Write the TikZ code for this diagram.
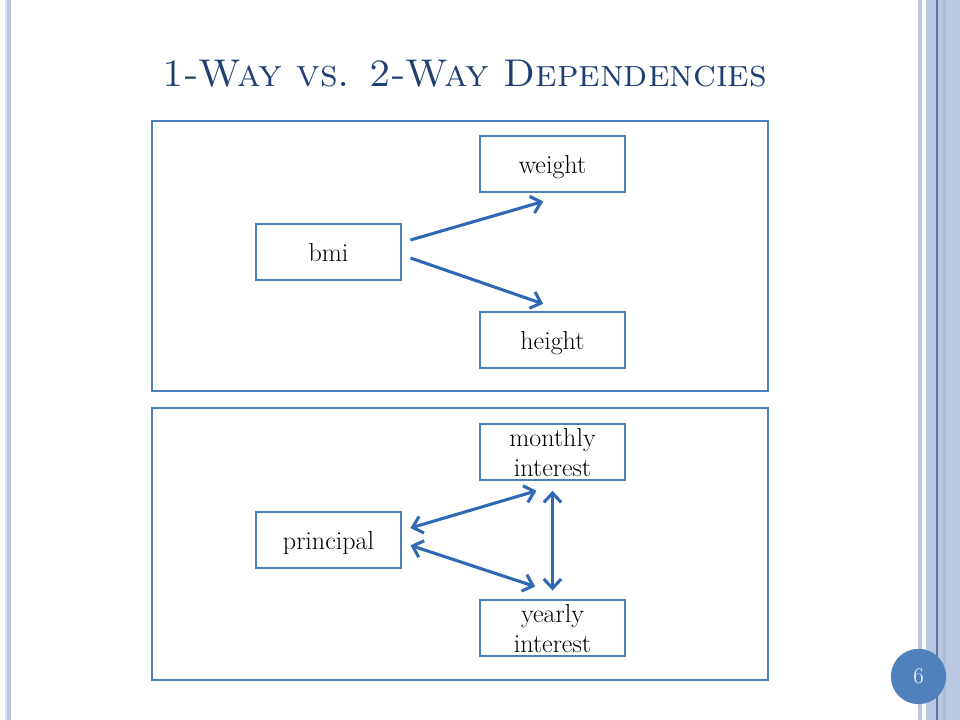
\documentclass[tikz,border=0pt]{standalone}
\usetikzlibrary{arrows.meta}
\definecolor{frameblue}{HTML}{4F7FBC}
\definecolor{arrowblue}{HTML}{3068B4}
\definecolor{titleblue}{HTML}{1F3F73}
\definecolor{bandblue}{HTML}{B9C7E1}
\definecolor{banddark}{HTML}{5F77A8}
\definecolor{bandmid}{HTML}{AABAD8}
\definecolor{bandlight}{HTML}{D6E0F0}
\definecolor{circblue}{HTML}{4F81BD}
\tikzset{
  box/.style={draw=frameblue, line width=2.2pt, fill=white, minimum width=108.75pt, minimum height=42pt, inner sep=0pt, text depth=0pt, align=center, font=\fontsize{19.5}{22.5}\selectfont},
  panel/.style={draw=frameblue, line width=1.7pt},
  arr/.style={draw=arrowblue, line width=2.3pt, -{Straight Barb[length=7pt,width=13pt,line width=2.3pt]}},
  darr/.style={draw=arrowblue, line width=2.3pt, {Straight Barb[length=7pt,width=13pt,line width=2.3pt]}-{Straight Barb[length=7pt,width=13pt,line width=2.3pt]}}
}
\begin{document}
\begin{tikzpicture}[x=0.75pt,y=-0.75pt]
\useasboundingbox (0,0) rectangle (960,720);
\fill[white] (0,0) rectangle (960,720);
% left edge stripe
\fill[bandblue] (5,0) rectangle (11,720);
\fill[bandlight] (5,0) rectangle (7,720);
% right edge bands
\fill[bandblue] (918,0) rectangle (922,720);
\fill[bandblue] (926,0) rectangle (960,720);
\fill[banddark] (936,0) rectangle (937.5,720);
\fill[bandmid] (943,0) rectangle (946,720);
% page number
\node[circle, fill=circblue, minimum size=41.5pt, inner sep=0pt, text=white, font=\fontsize{17}{20}\selectfont] (pg) at (918.5,676.5) {6};
% title
\node[text=titleblue, font=\fontsize{29}{35}\selectfont, anchor=base] (title) at (465,87) {\textsc{1-Way vs. 2-Way Dependencies}};
% panels
\draw[panel] (152,121) rectangle (768,391);
\draw[panel] (152,408) rectangle (768,680);
% nodes
\node[box] (bmi) at (328.5,252) {bmi};
\node[box] (weight) at (552.5,164) {weight};
\node[box] (height) at (552.5,340) {height};
\node[box] (principal) at (328.5,540) {principal};
\node[box] (monthly) at (552.5,452) {monthly\\interest};
\node[box] (yearly) at (552.5,628) {yearly\\interest};
% connectors
\draw[arr] ([xshift=6pt,yshift=9pt]bmi.east) -- ([xshift=-7pt,yshift=-6pt]weight.south);
\draw[arr] ([xshift=6pt,yshift=-4.5pt]bmi.east) -- ([xshift=-7pt,yshift=5pt]height.north);
\draw[darr] ([xshift=6pt,yshift=9pt]principal.east) -- ([xshift=-12pt,yshift=-7pt]monthly.south);
\draw[darr] ([xshift=6pt,yshift=-4pt]principal.east) -- ([xshift=-13pt,yshift=9pt]yearly.north);
\draw[darr] ([yshift=-7pt]monthly.south) -- ([yshift=6pt]yearly.north);
\end{tikzpicture}
\end{document}
